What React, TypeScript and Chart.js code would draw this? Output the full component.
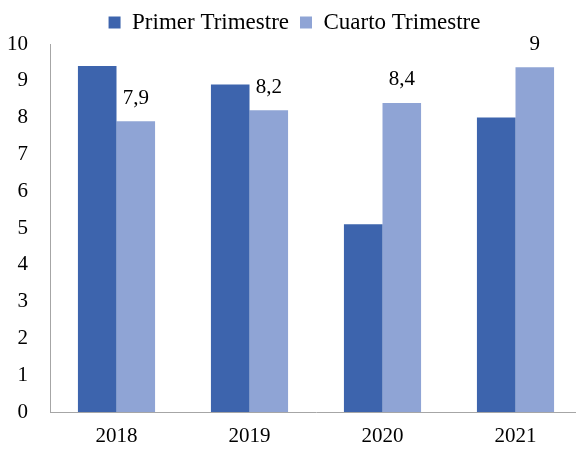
import React, { useEffect, useRef } from "react";
import { Chart, registerables } from "chart.js";

Chart.register(...registerables);

const categories = ["2018", "2019", "2020", "2021"];
const primerTrimestre = [9.4, 8.9, 5.1, 8.0];
const cuartoTrimestre = [7.9, 8.2, 8.4, 9.37];
const cuartoLabels = ["7,9", "8,2", "8,4", "9"];
const seriesNames = ["Primer Trimestre", "Cuarto Trimestre"];
const yMin = 0;
const yMax = 10;

const FONT = "'Liberation Serif', 'Times New Roman', serif";

const dataLabelPlugin = {
  id: "cuartoLabels",
  afterDatasetsDraw(chart: any) {
    const ctx = chart.ctx;
    const meta = chart.getDatasetMeta(1);
    ctx.save();
    ctx.font = `21px ${FONT}`;
    ctx.fillStyle = "#000000";
    ctx.textAlign = "center";
    ctx.textBaseline = "middle";
    meta.data.forEach((el: any, i: number) => {
      ctx.fillText(cuartoLabels[i], el.x, el.y - 23);
    });
    ctx.restore();
  },
};

export default function App() {
  const ref = useRef<HTMLCanvasElement | null>(null);

  useEffect(() => {
    if (!ref.current) return;
    const chart = new Chart(ref.current, {
      type: "bar",
      data: {
        labels: categories,
        datasets: [
          {
            label: seriesNames[0],
            data: primerTrimestre,
            backgroundColor: "#3D64AD",
            borderWidth: 0,
            categoryPercentage: 0.58,
            barPercentage: 1,
          },
          {
            label: seriesNames[1],
            data: cuartoTrimestre,
            backgroundColor: "#8FA4D5",
            borderWidth: 0,
            categoryPercentage: 0.58,
            barPercentage: 1,
          },
        ],
      },
      options: {
        responsive: false,
        animation: false,
        devicePixelRatio: 1,
        layout: { padding: { left: 7, right: 8, top: 0, bottom: 0 } },
        plugins: {
          legend: {
            position: "top",
            maxHeight: 44,
            labels: {
              boxWidth: 12,
              boxHeight: 12,
              padding: 11,
              color: "#000000",
              font: { family: FONT, size: 23 },
            },
          },
          tooltip: { enabled: false },
        },
        scales: {
          x: {
            grid: { display: false, drawTicks: false },
            border: { display: true, color: "#a6a6a6", width: 1 },
            ticks: {
              color: "#000000",
              padding: 12,
              font: { family: FONT, size: 21 },
            },
            afterFit(scale: any) {
              scale.height = 37;
            },
          },
          y: {
            min: yMin,
            max: yMax,
            grid: { display: false, drawTicks: false },
            border: { display: true, color: "#a6a6a6", width: 1 },
            ticks: {
              stepSize: 1,
              color: "#000000",
              padding: 22,
              font: { family: FONT, size: 21 },
            },
            afterFit(scale: any) {
              scale.width = 43;
            },
          },
        },
      },
      plugins: [dataLabelPlugin],
    });
    return () => chart.destroy();
  }, []);

  return (
    <div
      style={{
        position: "fixed",
        left: 0,
        top: 0,
        width: 576,
        height: 449,
        overflow: "hidden",
        background: "#ffffff",
      }}
    >
      <canvas ref={ref} width={590} height={449} style={{ display: "block" }} />
    </div>
  );
}
